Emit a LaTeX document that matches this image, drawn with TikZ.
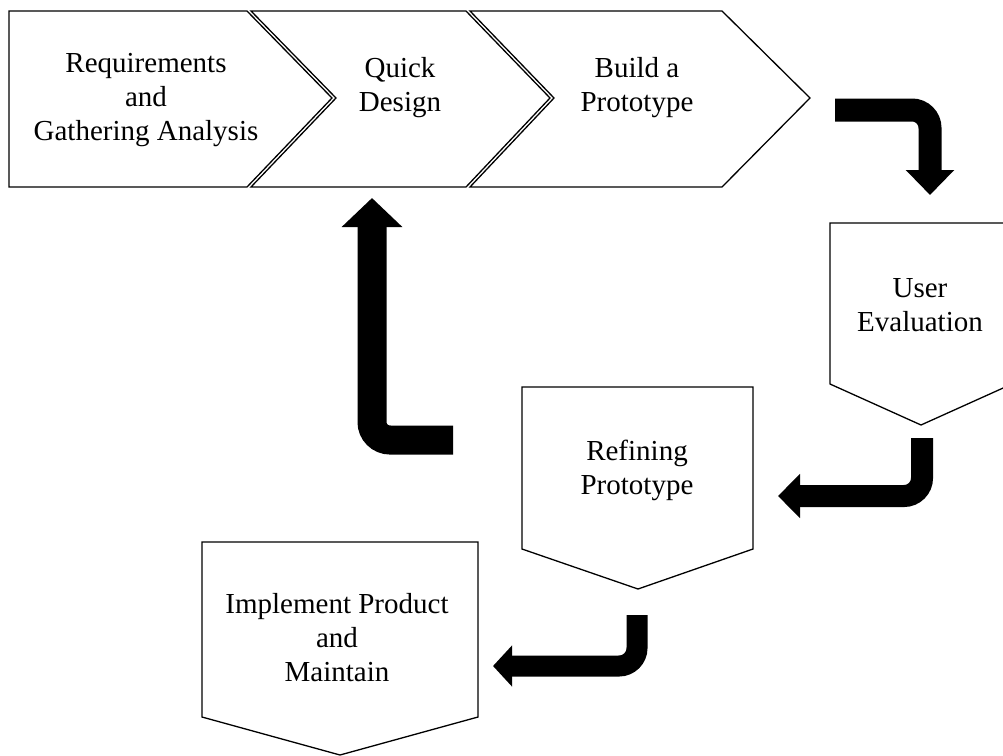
\documentclass[tikz,border=0pt]{standalone}
\usepackage{fontspec}
\setmainfont{Liberation Serif}
\usetikzlibrary{arrows.meta}

\begin{document}
\begin{tikzpicture}[x=1pt, y=-1pt,
    stage/.style={draw, line width=1.3pt, line join=miter},
    caption/.style={align=center, font=\fontsize{29}{34}\selectfont},
    flow/.style={line width=#1, rounded corners=18pt}]
    \useasboundingbox (0,0) rectangle (1003,755);
    \clip (0,0) rectangle (1003,755);

    % --- Top row: three chevrons ---
    \draw[stage] (9,11) -- (247,11) -- (332,98) -- (247,187) -- (9,187) -- cycle;
    \draw[stage] (251,11) -- (466,11) -- (550,98) -- (466,187) -- (251,187) -- (336,98) -- cycle;
    \draw[stage] (470,11) -- (722,11) -- (810,98) -- (722,187) -- (470,187) -- (554,98) -- cycle;

    \node[caption] (req) at (146, 100) {Requirements\\and\\Gathering Analysis};
    \node[caption] (design) at (400, 88) {Quick\\Design};
    \node[caption] (proto) at (637, 88) {Build a\\Prototype};

    % --- Downward pentagons ---
    \draw[stage] (830,223) -- (1012,223) -- (1012,384) -- (921,425) -- (830,384) -- cycle;
    \draw[stage] (522,387) -- (753,387) -- (753,549) -- (638,589) -- (522,549) -- cycle;
    \draw[stage] (202,542) -- (478,542) -- (478,717) -- (340,755) -- (202,717) -- cycle;

    \node[caption] (evaluation) at (920, 305) {User\\Evaluation};
    \node[caption] (refine) at (637, 470) {Refining\\Prototype};
    \node[caption] (implement) at (337, 638) {Implement Product\\and\\Maintain};

    % Arrow ends
    \coordinate (p1) at (835, 110);
    \coordinate (q1) at (930, 195);
    \coordinate (p2) at (922, 438);
    \coordinate (q2) at (778, 496);
    \coordinate (p3) at (637, 615);
    \coordinate (q3) at (493, 666);
    \coordinate (p4) at (453, 440);
    \coordinate (q4) at (372, 198);

    % Block arrows
    \draw[flow=23pt, -{Triangle[length=25pt, width=47pt]}] (p1) -| (q1);
    \draw[flow=22pt, -{Triangle[length=22pt, width=43pt]}] (p2) |- (q2);
    \draw[flow=21pt, -{Triangle[length=19pt, width=40pt]}] (p3) |- (q3);
    \draw[flow=29pt, -{Triangle[length=29pt, width=59pt]}] (p4) -| (q4);

\end{tikzpicture}
\end{document}
